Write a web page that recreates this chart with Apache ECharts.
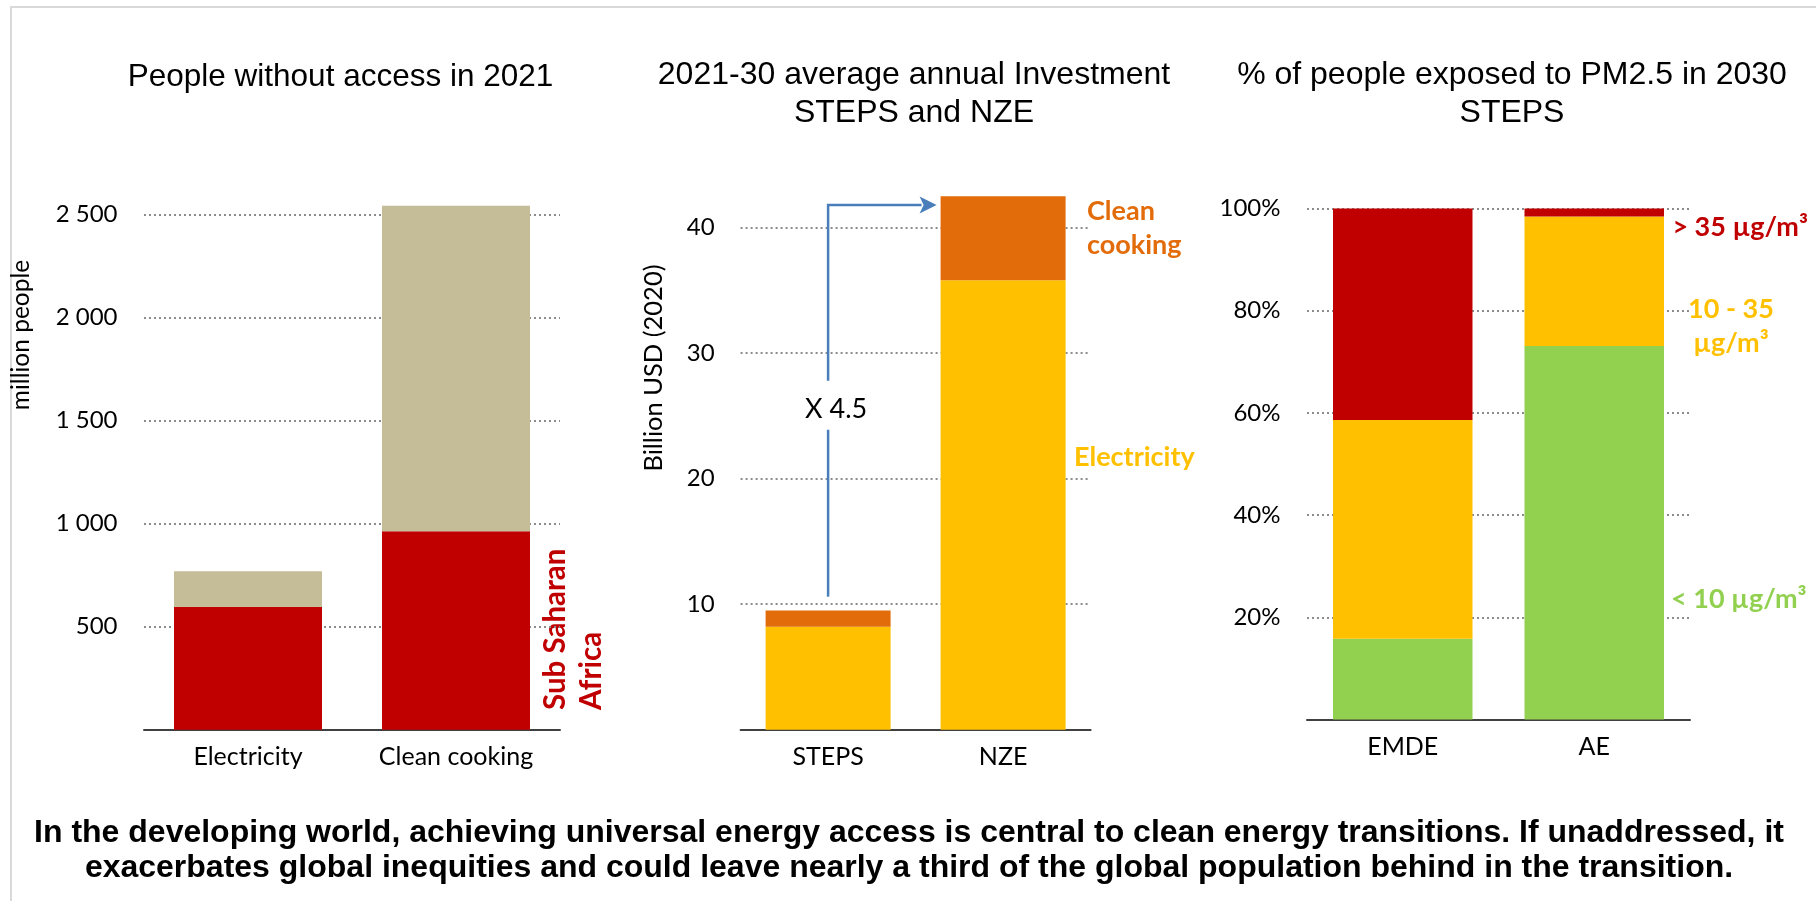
<!DOCTYPE html>
<html><head><meta charset="utf-8">
<script src="https://cdn.jsdelivr.net/npm/echarts@6/dist/echarts.min.js"></script>
<style>html,body{margin:0;padding:0;background:#fff}#c{width:1816px;height:901px}</style>
</head><body><div id="c"></div>
<script>
// ---- data ----
const accessCategories = ['Electricity', 'Clean cooking'];
const accessSSA = [597, 963];
const accessRest = [172, 1581];

const investCategories = ['STEPS', 'NZE'];
const investElectricity = [8.2, 35.8];
const investCooking = [1.3, 6.7];

const pmCategories = ['EMDE', 'AE'];
const pmLow = [15.8, 73.1];
const pmMid = [42.8, 25.3];
const pmHigh = [41.4, 1.6];

const arrowFrom = 10.6, arrowTo = 41.8, arrowGapLow = 23.9, arrowGapHigh = 27.8, arrowLabelValue = 25.5;
const arrowLabel = 'X 4.5';

const titles = ['People without access in 2021', '2021-30 average annual Investment\nSTEPS and NZE', '% of people exposed to PM2.5 in 2030\nSTEPS'];
const axisNames = ['million people', 'Billion USD (2020)'];
const footnote = 'In the developing world, achieving universal energy access is central to clean energy transitions. If unaddressed, it\nexacerbates global inequities and could leave nearly a third of the global population behind in the transition.';

// ---- styles ----
const AX = 'Lato, "Noto Sans", sans-serif';
const TF = '"Liberation Sans", Arial, sans-serif';
const RED = '#c00000', TAN = '#c4bd97', YEL = '#ffc000', ORG = '#e36c0a', GRN = '#92d050', BLUE = '#4a7ebb';
const bw = [148, 125, 139.5];

function spaceThousands(v) { return String(v).replace(/\B(?=(\d{3})+(?!\d))/g, ' '); }

function xAx(i, data) {
  return { type: 'category', gridIndex: i, data: data,
    axisTick: { show: false },
    axisLine: { lineStyle: { color: '#404040', width: 2 } },
    axisLabel: { fontFamily: AX, fontSize: 25, color: '#000', margin: 15 } };
}
function yAx(i, max, interval, fmt, hideMax, margin) {
  return { type: 'value', gridIndex: i, min: 0, max: max, interval: interval,
    axisLine: { show: false }, axisTick: { show: false },
    axisLabel: { fontFamily: AX, fontSize: 24, color: '#000', margin: margin, formatter: fmt,
      showMinLabel: false, showMaxLabel: !hideMax },
    splitLine: { show: true, showMinLine: false, showMaxLine: !hideMax,
      lineStyle: { type: [2, 3], color: '#8c8c8c', width: 2 } } };
}
function bar(i, name, data, color, stack) {
  return { type: 'bar', name: name, xAxisIndex: i, yAxisIndex: i, stack: stack, data: data,
    barWidth: bw[i], itemStyle: { color: color }, silent: true, z: 2 };
}
function txt(x, y, text, font, fill, align, extra) {
  return { type: 'text', silent: true, style: Object.assign({ x: x, y: y, text: text, font: font, fill: fill, align: align, verticalAlign: 'middle' }, extra || {}) };
}

const chart = echarts.init(document.getElementById('c'), null, { renderer: 'canvas' });

const option = {
  animation: false,
  backgroundColor: '#fff',
  grid: [
    { left: 144, top: 194.1, width: 416, height: 535.6 },
    { left: 740.6, top: 190, width: 350, height: 539.7 },
    { left: 1307, top: 208.4, width: 383, height: 511.1 }
  ],
  xAxis: [xAx(0, accessCategories), xAx(1, investCategories), xAx(2, pmCategories)],
  yAxis: [
    yAx(0, 2600, 500, spaceThousands, true, 26.5),
    yAx(1, 43, 10, v => String(v), true, 26),
    yAx(2, 100, 20, v => v + '%', false, 26.5)
  ],
  series: [
    bar(0, 'Sub Saharan Africa', accessSSA, RED, 'a'),
    bar(0, 'Rest of world', accessRest, TAN, 'a'),
    bar(1, 'Electricity', investElectricity, YEL, 'b'),
    bar(1, 'Clean cooking', investCooking, ORG, 'b'),
    bar(2, '< 10', pmLow, GRN, 'c'),
    bar(2, '10 - 35', pmMid, YEL, 'c'),
    bar(2, '> 35', pmHigh, RED, 'c'),
    { type: 'custom', xAxisIndex: 1, yAxisIndex: 1, z: 5, silent: true,
      data: [[0, arrowFrom]],
      renderItem: function (params, api) {
        const a = api.coord([0, arrowFrom]);
        const gl = api.coord([0, arrowGapLow]);
        const gh = api.coord([0, arrowGapHigh]);
        const t = api.coord([0, arrowTo]);
        const n = api.coord([1, arrowTo]);
        const tipX = n[0] - bw[1] / 2 - 4;
        const hl = 17, hh = 8.5;
        const lab = api.coord([0, arrowLabelValue]);
        return { type: 'group', children: [
          { type: 'line', shape: { x1: a[0], y1: a[1], x2: gl[0], y2: gl[1] }, style: { stroke: BLUE, lineWidth: 2.5 } },
          { type: 'polyline', shape: { points: [gh, t, [tipX - hl + 2, t[1]]] }, style: { stroke: BLUE, lineWidth: 2.5, fill: null } },
          { type: 'polygon', shape: { points: [[tipX, t[1]], [tipX - hl, t[1] - hh], [tipX - hl + 4, t[1]], [tipX - hl, t[1] + hh]] }, style: { fill: BLUE } },
          { type: 'text', style: { x: lab[0] + 8, y: lab[1], text: arrowLabel, fill: '#000', font: '27px ' + AX, align: 'center', verticalAlign: 'middle' } }
        ] };
      }
    }
  ],
  graphic: [
    { type: 'rect', silent: true, shape: { x: 11, y: 7, width: 1900, height: 1000 }, style: { fill: 'none', stroke: '#d9d9d9', lineWidth: 2 } },
    { type: 'text', silent: true, style: { x: 340.5, y: 58, text: titles[0], font: '31.5px ' + TF, fill: '#000', align: 'center', verticalAlign: 'top', lineHeight: 38 } },
    { type: 'text', silent: true, style: { x: 914, y: 56, text: titles[1], font: '32px ' + TF, fill: '#000', align: 'center', verticalAlign: 'top', lineHeight: 38 } },
    { type: 'text', silent: true, style: { x: 1512, y: 56, text: titles[2], font: '32px ' + TF, fill: '#000', align: 'center', verticalAlign: 'top', lineHeight: 38 } },
    { type: 'text', silent: true, style: { x: 909, y: 816, text: footnote, font: 'bold 32px ' + TF, fill: '#000', align: 'center', verticalAlign: 'top', lineHeight: 35 } },
    { type: 'text', silent: true, x: 21, y: 335, rotation: Math.PI / 2, style: { x: 0, y: 0, text: axisNames[0], font: '24.5px ' + AX, fill: '#000', align: 'center', verticalAlign: 'middle' } },
    { type: 'text', silent: true, x: 653.5, y: 368, rotation: Math.PI / 2, style: { x: 0, y: 0, text: axisNames[1], font: '25.5px ' + AX, fill: '#000', align: 'center', verticalAlign: 'middle' } },
    { type: 'text', silent: true, x: 573.5, y: 710, rotation: Math.PI / 2, style: { x: 0, y: 0, text: 'Sub Saharan\nAfrica', font: 'bold 29.5px ' + AX, fill: RED, align: 'left', verticalAlign: 'middle', lineHeight: 36 } },
    txt(1087, 228, 'Clean\ncooking', 'bold 27px ' + AX, ORG, 'left', { lineHeight: 34.3 }),
    txt(1074, 457, 'Electricity', 'bold 27px ' + AX, YEL, 'left'),
    txt(1672.4, 227, '> 35 µg/m³', 'bold 27px ' + AX, RED, 'left'),
    txt(1731, 326.3, '10 - 35\nµg/m³', 'bold 27px ' + AX, YEL, 'center', { lineHeight: 33.4 }),
    txt(1671, 599, '< 10 µg/m³', 'bold 27px ' + AX, GRN, 'left')
  ]
};
chart.setOption(option);
</script>
</body></html>
